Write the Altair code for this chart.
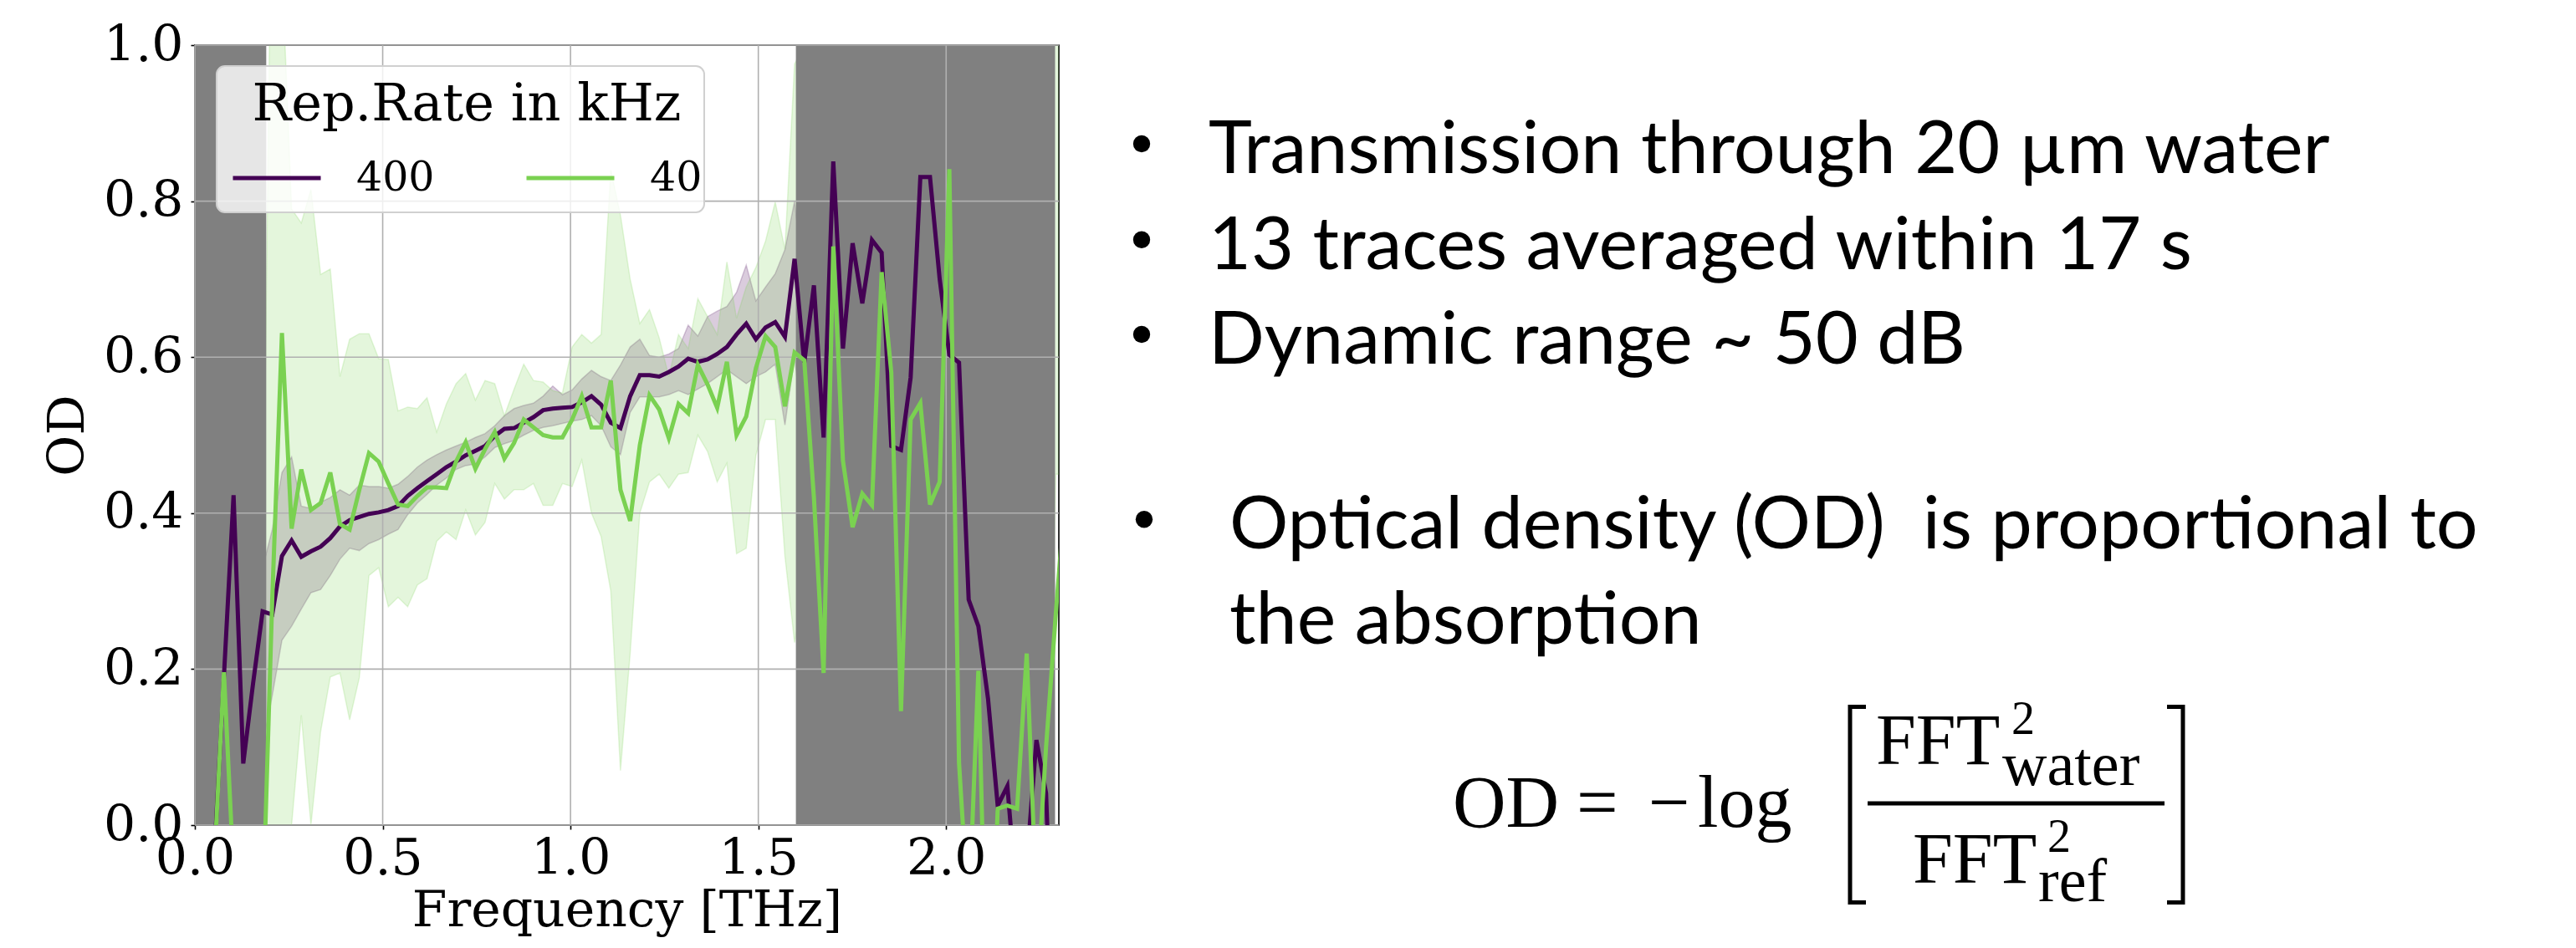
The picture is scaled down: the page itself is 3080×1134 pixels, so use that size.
import altair as alt
import pandas as pd

# ---------------- data ----------------
freq = [0.0000, 0.0258, 0.0515, 0.0773, 0.1030, 0.1288, 0.1545, 0.1803, 0.2060, 0.2318,
        0.2575, 0.2833, 0.3090, 0.3348, 0.3605, 0.3863, 0.4120, 0.4378, 0.4635, 0.4893,
        0.5150, 0.5408, 0.5665, 0.5923, 0.6180, 0.6438, 0.6695, 0.6953, 0.7210, 0.7468,
        0.7725, 0.7983, 0.8240, 0.8498, 0.8755, 0.9013, 0.9270, 0.9528, 0.9785, 1.0043,
        1.0300, 1.0558, 1.0815, 1.1073, 1.1330, 1.1588, 1.1845, 1.2103, 1.2360, 1.2618,
        1.2875, 1.3133, 1.3390, 1.3648, 1.3905, 1.4163, 1.4420, 1.4678, 1.4935, 1.5193,
        1.5450, 1.5708, 1.5965, 1.6223, 1.6480, 1.6738, 1.6995, 1.7253, 1.7510, 1.7768,
        1.8025, 1.8283, 1.8540, 1.8798, 1.9055, 1.9313, 1.9570, 1.9828, 2.0085, 2.0343,
        2.0600, 2.0858, 2.1115, 2.1373, 2.1630, 2.1888, 2.2145, 2.2403, 2.2660, 2.2918,
        2.3175]

od_400 = [-0.60, -0.30, -0.04, 0.190, 0.423, 0.079, 0.180, 0.274, 0.270, 0.345,
          0.365, 0.344, 0.351, 0.357, 0.368, 0.383, 0.391, 0.395, 0.399, 0.401,
          0.404, 0.409, 0.422, 0.432, 0.441, 0.450, 0.459, 0.466, 0.474, 0.480,
          0.486, 0.499, 0.508, 0.509, 0.516, 0.523, 0.532, 0.534, 0.535, 0.536,
          0.542, 0.550, 0.539, 0.516, 0.509, 0.550, 0.577, 0.577, 0.575, 0.581,
          0.588, 0.598, 0.594, 0.597, 0.604, 0.613, 0.629, 0.643, 0.623, 0.638,
          0.645, 0.626, 0.726, 0.593, 0.692, 0.497, 0.851, 0.611, 0.746, 0.669,
          0.750, 0.734, 0.486, 0.481, 0.574, 0.831, 0.831, 0.700, 0.603, 0.593,
          0.289, 0.255, 0.162, 0.025, 0.050, -0.10, -0.05, 0.109, 0.041, -0.30,
          -0.30]
lo_400 = [-0.70, -0.40, -0.14, 0.09, 0.30, 0.00, 0.08, 0.100, 0.166, 0.237,
          0.255, 0.277, 0.298, 0.302, 0.320, 0.341, 0.355, 0.352, 0.361, 0.366,
          0.373, 0.379, 0.398, 0.413, 0.424, 0.436, 0.445, 0.456, 0.461, 0.463,
          0.472, 0.484, 0.489, 0.493, 0.500, 0.506, 0.510, 0.512, 0.515, 0.518,
          0.520, 0.525, 0.512, 0.485, 0.475, 0.529, 0.549, 0.549, 0.549, 0.552,
          0.557, 0.552, 0.559, 0.566, 0.575, 0.584, 0.575, 0.566, 0.575, 0.581,
          0.591, 0.513, 0.600, 0.49, 0.59, 0.40, 0.75, 0.51, 0.65, 0.57,
          0.65, 0.63, 0.39, 0.38, 0.47, 0.73, 0.73, 0.60, 0.50, 0.49,
          0.19, 0.16, 0.06, -0.08, -0.05, -0.20, -0.15, 0.01, -0.06, -0.40,
          -0.40]
hi_400 = [-0.50, -0.20, 0.06, 0.29, 0.55, 0.20, 0.30, 0.330, 0.379, 0.452,
          0.472, 0.409, 0.406, 0.414, 0.420, 0.430, 0.423, 0.436, 0.434, 0.434,
          0.432, 0.437, 0.447, 0.459, 0.468, 0.475, 0.481, 0.486, 0.491, 0.497,
          0.502, 0.512, 0.525, 0.534, 0.538, 0.541, 0.550, 0.563, 0.552, 0.558,
          0.572, 0.583, 0.575, 0.570, 0.590, 0.613, 0.623, 0.602, 0.600, 0.604,
          0.611, 0.641, 0.627, 0.652, 0.659, 0.665, 0.683, 0.718, 0.672, 0.690,
          0.707, 0.738, 0.800, 0.69, 0.79, 0.60, 0.95, 0.71, 0.85, 0.77,
          0.85, 0.83, 0.59, 0.58, 0.67, 0.93, 0.93, 0.80, 0.70, 0.69,
          0.39, 0.36, 0.26, 0.13, 0.15, 0.00, 0.05, 0.21, 0.14, -0.20,
          -0.20]

od_40 = [-0.30, -0.30, -0.05, 0.196, -0.06, -0.10, -0.10, -0.12, 0.290, 0.631,
         0.380, 0.456, 0.404, 0.413, 0.452, 0.386, 0.379, 0.430, 0.477, 0.466,
         0.438, 0.411, 0.409, 0.422, 0.433, 0.433, 0.432, 0.466, 0.491, 0.457,
         0.482, 0.504, 0.470, 0.490, 0.520, 0.510, 0.500, 0.497, 0.497, 0.520,
         0.550, 0.510, 0.510, 0.570, 0.430, 0.390, 0.487, 0.551, 0.533, 0.496,
         0.540, 0.528, 0.590, 0.565, 0.535, 0.594, 0.500, 0.524, 0.586, 0.627,
         0.613, 0.537, 0.606, 0.596, 0.420, 0.195, 0.742, 0.467, 0.382, 0.425,
         0.410, 0.709, 0.580, 0.146, 0.520, 0.541, 0.411, 0.440, 0.841, 0.080,
         -0.12, 0.198, -0.30, 0.021, 0.025, 0.021, 0.220, -0.10, 0.100, 0.270,
         0.430]
lo_40 = [-0.80, -0.80, -0.60, -0.40, -0.60, -0.60, -0.60, -0.20, -0.10, -0.05,
         0.000, 0.141, 0.000, 0.120, 0.190, 0.195, 0.135, 0.189, 0.320, 0.330,
         0.280, 0.292, 0.280, 0.308, 0.316, 0.364, 0.376, 0.366, 0.404, 0.372,
         0.388, 0.438, 0.418, 0.430, 0.430, 0.438, 0.410, 0.410, 0.438, 0.434,
         0.468, 0.400, 0.370, 0.300, 0.070, 0.220, 0.400, 0.440, 0.450, 0.432,
         0.450, 0.452, 0.500, 0.479, 0.440, 0.464, 0.348, 0.355, 0.474, 0.520,
         0.520, 0.345, 0.234, 0.30, 0.12, -0.10, 0.44, 0.17, 0.08, 0.12,
         0.11, 0.41, 0.28, -0.15, 0.22, 0.24, 0.11, 0.14, 0.54, -0.22,
         -0.42, -0.10, -0.60, -0.28, -0.27, -0.28, -0.08, -0.40, -0.20, 0.45,
         0.45]
hi_40 = [0.20, 0.20, 0.50, 0.80, 0.50, 0.40, 0.40, 0.30, 1.30, 1.10,
         0.790, 0.772, 0.815, 0.706, 0.713, 0.575, 0.623, 0.630, 0.630, 0.598,
         0.597, 0.531, 0.536, 0.534, 0.548, 0.504, 0.540, 0.566, 0.579, 0.545,
         0.570, 0.566, 0.525, 0.559, 0.591, 0.570, 0.568, 0.557, 0.554, 0.613,
         0.629, 0.618, 0.629, 0.840, 0.782, 0.700, 0.643, 0.661, 0.625, 0.575,
         0.629, 0.611, 0.675, 0.652, 0.629, 0.722, 0.650, 0.690, 0.715, 0.749,
         0.799, 0.738, 0.976, 1.00, 0.82, 0.60, 1.14, 0.87, 0.78, 0.83,
         0.81, 1.11, 0.98, 0.55, 0.92, 0.94, 0.81, 0.84, 1.24, 0.48,
         0.28, 0.60, 0.10, 0.42, 0.43, 0.42, 0.62, 0.30, 0.50, 1.30,
         1.30]

rates = ["400", "40"]
colors = ["#440154", "#7ad151"]
span_start = [0.0, 1.6]
span_end = [0.19, 2.29]
x_ticks = [0.0, 0.5, 1.0, 1.5, 2.0]
y_ticks = [0.0, 0.2, 0.4, 0.6, 0.8, 1.0]

bullets = ["Transmission through 20 \u00b5m water",
           "13 traces averaged within 17 s",
           "Dynamic range ~ 50 dB"]
bullet4 = ["Optical density (OD)\u00a0 is proportional to", "the absorption"]

# ---------------- build tables ----------------
n = len(freq)
df = pd.DataFrame({
    "freq": freq + freq,
    "od": od_400 + od_40,
    "lo": lo_400 + lo_40,
    "hi": hi_400 + hi_40,
    "rate": [rates[0]] * n + [rates[1]] * n,
})
spans_df = pd.DataFrame({"start": span_start, "end": span_end})
gx_df = pd.DataFrame({"g": x_ticks})
gy_df = pd.DataFrame({"g": y_ticks})

W, H = 1033, 933
SERIF = "DejaVu Serif"

xscale = alt.Scale(domain=[0, 2.3], nice=False, zero=False)
yscale = alt.Scale(domain=[0, 1], nice=False, zero=False)
xaxis = alt.Axis(values=x_ticks, format=".1f", grid=False, domain=False,
                 tickSize=5, tickWidth=1.6, tickColor="black",
                 labelFont=SERIF, labelFontSize=60, labelColor="black",
                 labelPadding=6, labelFlush=False, labelOverlap=False,
                 titleFont=SERIF, titleFontSize=60, titleFontWeight="normal",
                 titleColor="black", titlePadding=3)
yaxis = alt.Axis(values=y_ticks, format=".1f", grid=False, domain=False,
                 tickSize=5, tickWidth=1.6, tickColor="black",
                 labelFont=SERIF, labelFontSize=60, labelColor="black",
                 labelPadding=9, labelFlush=False, labelOverlap=False,
                 titleFont=SERIF, titleFontSize=60, titleFontWeight="normal",
                 titleColor="black", titlePadding=11)
XT = "Frequency [THz]"
YT = "OD"

base = alt.Chart(df)

def band(rate, color):
    return base.transform_filter(alt.datum.rate == rate).mark_area(
        color=color, fillOpacity=0.2, stroke=color, strokeOpacity=0.2,
        strokeWidth=1.5, clip=True
    ).encode(
        x=alt.X("freq:Q", scale=xscale, axis=xaxis, title=XT),
        y=alt.Y("lo:Q", scale=yscale, axis=yaxis, title=YT),
        y2="hi:Q",
    )

band_400 = band(rates[0], colors[0])
band_40 = band(rates[1], colors[1])

spans = alt.Chart(spans_df).mark_rect(color="#808080").encode(
    x=alt.X("start:Q", scale=xscale, axis=xaxis, title=XT),
    x2="end:Q",
    y=alt.value(0),
    y2=alt.value(H),
)

grid_x = alt.Chart(gx_df).mark_rule(color="#b0b0b0", strokeWidth=1.6).encode(
    x=alt.X("g:Q", scale=xscale, axis=xaxis, title=XT)
)
grid_y = alt.Chart(gy_df).mark_rule(color="#b0b0b0", strokeWidth=1.6).encode(
    y=alt.Y("g:Q", scale=yscale, axis=yaxis, title=YT)
)

lines = base.mark_line(strokeWidth=5, clip=True).encode(
    x=alt.X("freq:Q", scale=xscale, axis=xaxis, title=XT),
    y=alt.Y("od:Q", scale=yscale, axis=yaxis, title=YT),
    color=alt.Color(
        "rate:N",
        scale=alt.Scale(domain=rates, range=colors),
        sort=rates,
        legend=alt.Legend(
            title="Rep.Rate in kHz", orient="none", legendX=26, legendY=24,
            columns=2, direction="horizontal",
            symbolType="stroke", symbolSize=11025, symbolStrokeWidth=5,
            labelFont=SERIF, labelFontSize=49, labelColor="black",
            labelOffset=40, columnPadding=99, labelLimit=400,
            titleFont=SERIF, titleFontSize=62, titleFontWeight="normal",
            titleColor="black", titleAnchor="middle", titlePadding=1,
            titleLimit=1000,
            fillColor="transparent", strokeColor="transparent",
            padding=17,
        ),
    ),
)

one = alt.InlineData(values=[{"a": 0}])

# legend frame (matplotlib-style rounded, semi-transparent box)
legend_box = alt.Chart(one).mark_rect(
    fill="white", fillOpacity=0.8, stroke="#d0d0d0", strokeWidth=2,
    cornerRadius=10
).encode(x=alt.value(26), x2=alt.value(609), y=alt.value(25), y2=alt.value(200))

def text(s, x, y, size, font, align="left"):
    return alt.Chart(one).mark_text(
        font=font, fontSize=size, color="black", align=align,
        baseline="alphabetic"
    ).encode(x=alt.value(x), y=alt.value(y), text=alt.value(s))

def dot(x, y):
    return alt.Chart(one).mark_circle(size=415, color="black", opacity=1).encode(
        x=alt.value(x), y=alt.value(y))

def bar(x1, x2, y1, y2, w=5):
    return alt.Chart(one).mark_rule(color="black", strokeWidth=w).encode(
        x=alt.value(x1), x2=alt.value(x2), y=alt.value(y1), y2=alt.value(y2))

SANS = "Lato"
TS = 88
ann = [
    dot(1132, 118), text(bullets[0], 1212, 152.7, TS, SANS),
    dot(1132, 232.7), text(bullets[1], 1212, 268, TS, SANS),
    dot(1132, 346), text(bullets[2], 1212, 381, TS, SANS),
    dot(1135, 567.3), text(bullet4[0], 1237, 601.6, TS, SANS),
    text(bullet4[1], 1237, 716, TS, SANS),
]

MATH = "Liberation Serif"
formula = [
    text("OD", 1504, 935, 88, MATH),
    text("=", 1652, 935, 88, MATH),
    text("\u2212", 1738, 935, 88, MATH),
    text("log", 1797, 935, 88, MATH),
    bar(1979, 1979, 789, 1028), bar(1977, 1998, 791.5, 791.5), bar(1977, 1998, 1025.5, 1025.5),
    bar(2000, 2355, 907, 907),
    bar(2377, 2377, 789, 1028), bar(2358, 2379, 791.5, 791.5), bar(2358, 2379, 1025.5, 1025.5),
    text("FFT", 2010, 860, 86, MATH),
    text("2", 2172, 824, 56, MATH),
    text("water", 2161, 885, 74, MATH),
    text("FFT", 2054, 1002, 86, MATH),
    text("2", 2215, 965, 56, MATH),
    text("ref", 2204, 1024, 74, MATH),
]

chart = alt.layer(
    band_400, band_40, spans, grid_x, grid_y, lines, legend_box, *ann, *formula
).properties(
    width=W, height=H,
    autosize=alt.AutoSizeParams(type="none"),
    padding={"left": 225, "top": 46, "right": 1806, "bottom": 145},
    background="white",
).configure_view(
    stroke="black", strokeWidth=1.6
)

chart.save("out.html", embed_options={"renderer": "svg", "actions": False})
